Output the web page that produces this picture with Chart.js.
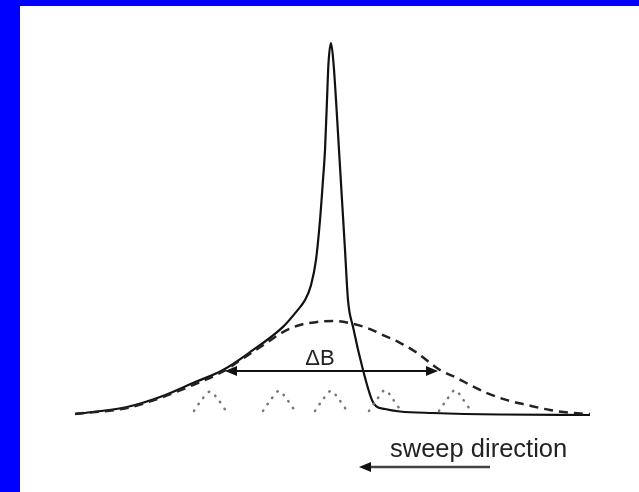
<!DOCTYPE html>
<html>
<head>
<meta charset="utf-8">
<script src="https://cdn.jsdelivr.net/npm/chart.js@4/dist/chart.umd.min.js"></script>
<style>
  html, body { margin: 0; padding: 0; }
  body { width: 639px; height: 492px; background: #0000ff; position: relative; overflow: hidden; }
  #panel { position: absolute; left: 20px; top: 6px; width: 619px; height: 486px; background: #ffffff; }
  canvas { display: block; }
</style>
</head>
<body>
<div id="panel"><canvas id="chart" width="619" height="486"></canvas></div>
<script>
// Field axis in mT (peak at 0), signal normalised to the sharp peak.
const solidField  = [-6.4, -5.95, -5.1, -4.275, -3.45, -2.7, -2.025, -1.2, -0.85, -0.65, -0.5, -0.375, -0.275, -0.2, -0.15, -0.1, -0.0625, 0,
                     0.0625, 0.125, 0.2, 0.275, 0.35, 0.425, 0.55, 0.8, 1.025, 1.125, 1.35, 1.725, 2.55, 4.225, 6.475];
const solidSignal = [0.0027, 0.0081, 0.0215, 0.0484, 0.086, 0.121, 0.169, 0.237, 0.280, 0.309, 0.349, 0.417, 0.524, 0.632, 0.712, 0.847, 0.946, 1.0,
                     0.946, 0.847, 0.712, 0.578, 0.444, 0.309, 0.237, 0.121, 0.040, 0.024, 0.016, 0.0094, 0.0054, 0.0013, 0.0];

// Inhomogeneous envelope (dashed)
const envField  = [-6.4, -5.1, -4.275, -3.45, -2.725, -2.075, -1.65, -1.2, -0.775, -0.35, 0.05, 0.475, 0.9, 1.3, 1.725,
                   2.15, 2.55, 2.725, 3.15, 3.475, 3.9, 4.4, 4.9, 5.475, 6.05, 6.475];
const envSignal = [0.0027, 0.0188, 0.0457, 0.0806, 0.1156, 0.161, 0.191, 0.223, 0.242, 0.25, 0.253, 0.247, 0.234, 0.215, 0.194,
                   0.167, 0.134, 0.121, 0.0995, 0.0806, 0.059, 0.040, 0.027, 0.0134, 0.0054, 0.0027];

// Individual spin packets (dotted)
const packetField = [
  [-3.425, -3.225, -3.025, -2.825, -2.625],
  [-1.7, -1.5, -1.3, -1.1, -0.9],
  [-0.4, -0.2, 0.0, 0.2, 0.4],
  [0.95, 1.15, 1.35, 1.55, 1.75],
  [2.7, 2.9, 3.1, 3.3, 3.5]
];
const packetSignal = [
  [0.011, 0.042, 0.063, 0.042, 0.011],
  [0.011, 0.042, 0.065, 0.042, 0.011],
  [0.011, 0.042, 0.065, 0.042, 0.011],
  [0.011, 0.042, 0.067, 0.042, 0.011],
  [0.011, 0.042, 0.067, 0.042, 0.011]
];

// Annotations: linewidth arrow, sweep arrow and labels (field, signal)
const deltaBArrow = { from: [-2.65, 0.118], to: [2.675, 0.118] };
const deltaBLabel = { text: 'ΔB', at: [-0.275, 0.134] };
const sweepArrow  = { from: [3.975, -0.14], to: [0.7, -0.14] };
const sweepLabel  = { text: 'sweep direction', at: [1.475, -0.113] };

function pts(xs, ys) { return xs.map((x, i) => ({ x: x, y: ys[i] })); }

const packetPoints = [];
packetField.forEach((xs, k) => {
  if (k > 0) packetPoints.push({ x: (packetField[k - 1][4] + xs[0]) / 2, y: null });
  pts(xs, packetSignal[k]).forEach(p => packetPoints.push(p));
});

function arrowHead(ctx, x, y, dir) {
  const len = 12, half = 5;
  ctx.beginPath();
  ctx.moveTo(x, y);
  ctx.lineTo(x - dir * len, y - half);
  ctx.lineTo(x - dir * len, y + half);
  ctx.closePath();
  ctx.fill();
}

const annotate = {
  id: 'annotate',
  afterDatasetsDraw(chart) {
    const ctx = chart.ctx, xs = chart.scales.x, ys = chart.scales.y;
    const px = v => xs.getPixelForValue(v), py = v => ys.getPixelForValue(v);
    ctx.save();
    ctx.strokeStyle = '#111';
    ctx.fillStyle = '#111';
    ctx.lineWidth = 2;

    // ΔB double arrow
    const ax1 = px(deltaBArrow.from[0]), ax2 = px(deltaBArrow.to[0]), ay = py(deltaBArrow.from[1]);
    ctx.beginPath();
    ctx.moveTo(ax1 + 8, ay);
    ctx.lineTo(ax2 - 8, ay);
    ctx.stroke();
    arrowHead(ctx, ax1, ay, -1);
    arrowHead(ctx, ax2, ay, 1);

    // sweep arrow (points towards lower field)
    const sx1 = px(sweepArrow.from[0]), sx2 = px(sweepArrow.to[0]), sy = py(sweepArrow.from[1]);
    ctx.strokeStyle = '#444';
    ctx.lineWidth = 2.5;
    ctx.beginPath();
    ctx.moveTo(sx1, sy);
    ctx.lineTo(sx2 + 8, sy);
    ctx.stroke();
    ctx.fillStyle = '#111';
    arrowHead(ctx, sx2, sy, -1);

    ctx.fillStyle = '#222';
    ctx.textBaseline = 'alphabetic';
    ctx.font = '22px "Liberation Sans", Arial, sans-serif';
    ctx.textAlign = 'center';
    ctx.fillText(deltaBLabel.text, px(deltaBLabel.at[0]), py(deltaBLabel.at[1]));

    ctx.font = '25.5px "Liberation Sans", Arial, sans-serif';
    ctx.textAlign = 'left';
    ctx.fillText(sweepLabel.text, px(sweepLabel.at[0]), py(sweepLabel.at[1]));
    ctx.restore();
  }
};

new Chart(document.getElementById('chart'), {
  type: 'line',
  data: {
    datasets: [
      {
        label: 'spin packets',
        data: packetPoints,
        borderColor: '#777',
        borderWidth: 2.5,
        borderDash: [0.5, 7.5],
        borderCapStyle: 'round',
        pointRadius: 0,
        tension: 0.3,
        spanGaps: false
      },
      {
        label: 'envelope',
        data: pts(envField, envSignal),
        borderColor: '#222',
        borderWidth: 2.5,
        borderDash: [9, 6],
        pointRadius: 0,
        cubicInterpolationMode: 'monotone'
      },
      {
        label: 'passage signal',
        data: pts(solidField, solidSignal),
        borderColor: '#111',
        borderWidth: 2.2,
        pointRadius: 0,
        cubicInterpolationMode: 'monotone'
      }
    ]
  },
  options: {
    responsive: false,
    animation: false,
    devicePixelRatio: 1,
    layout: { padding: 0 },
    plugins: { legend: { display: false }, tooltip: { enabled: false } },
    scales: {
      x: { type: 'linear', min: -7.775, max: 7.7, display: false },
      y: { type: 'linear', min: -0.207, max: 1.0995, display: false }
    }
  },
  plugins: [annotate]
});
</script>
</body>
</html>
